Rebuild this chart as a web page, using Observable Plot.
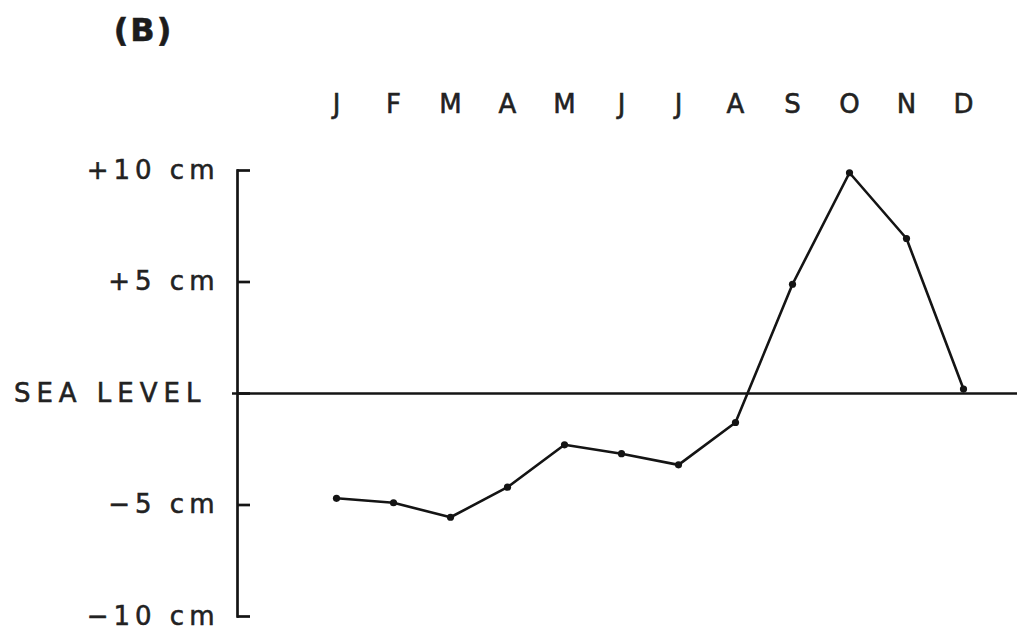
<!DOCTYPE html>
<html>
<head>
<meta charset="utf-8">
<script src="https://cdn.jsdelivr.net/npm/d3@7"></script>
<script src="https://cdn.jsdelivr.net/npm/@observablehq/plot@0.6"></script>
<style>
  html, body { margin: 0; padding: 0; background: #ffffff; }
  #chart svg { display: block; }
  #chart svg text { stroke: #222; stroke-width: 0.55px; }
  g[aria-label="y-axis tick label"] text { letter-spacing: 5px; }
  text[aria-label="sea level label"] { letter-spacing: 6px; }
  text[aria-label="panel title"] { letter-spacing: 2px; stroke-width: 0px; }
</style>
</head>
<body>
<div id="chart"></div>
<script>
const months = ["Jan","Feb","Mar","Apr","May","Jun","Jul","Aug","Sep","Oct","Nov","Dec"];
const monthLabels = ["J","F","M","A","M","J","J","A","S","O","N","D"];
const seaLevel = [-4.7, -4.9, -5.55, -4.2, -2.3, -2.7, -3.2, -1.3, 4.9, 9.9, 6.95, 0.2];
const valueTicks = [10, 5, -5, -10];
const valueTickLabels = ["+10 cm", "+5 cm", "\u22125 cm", "\u221210 cm"];
const zeroTick = [0];
const zeroTickLabel = "SEA LEVEL";
const endTicks = [10, 5, 0, -5, -10];
const panelTitle = "(B)";

const data = months.map((m, i) => ({month: m, value: seaLevel[i]}));
const ink = "#141414";

const chart = Plot.plot({
  width: 1021,
  height: 637,
  marginTop: 170,
  marginBottom: 21,
  marginLeft: 237,
  marginRight: 4,
  style: {fontFamily: "'DejaVu Sans', sans-serif", fontSize: "26px", color: "#222", background: "#ffffff"},
  x: {type: "point", domain: months, range: [335, 963], padding: 0},
  y: {domain: [-10, 10]},
  marks: [
    Plot.axisX({anchor: "top", tickSize: 0, tickPadding: 58, tickFormat: d => monthLabels[months.indexOf(d)], label: null, fill: "#222"}),
    Plot.axisY(valueTicks, {anchor: "left", tickSize: 0, tickPadding: 18, tickFormat: d => valueTickLabels[valueTicks.indexOf(d)], label: null, fill: "#222"}),
    Plot.text(zeroTick, {y: d => d, text: () => zeroTickLabel, frameAnchor: "left", textAnchor: "end", dx: -31, ariaLabel: () => "sea level label", fill: "#222"}),
    Plot.frame({anchor: "left", stroke: ink, strokeWidth: 2.7}),
    Plot.tickY(endTicks, {y: d => d, insetLeft: 0, insetRight: 767, stroke: ink, strokeWidth: 2.7}),
    Plot.ruleY([0], {stroke: ink, strokeWidth: 2.3, insetLeft: -5}),
    Plot.line(data, {x: "month", y: "value", stroke: ink, strokeWidth: 2.6}),
    Plot.dot(data, {x: "month", y: "value", r: 3.6, fill: ink, stroke: "none"}),
    Plot.text([panelTitle], {frameAnchor: "top-left", text: d => d, textAnchor: "middle", lineAnchor: "bottom", dx: -94, dy: -130, fontSize: 32, fontWeight: "bold", fill: "#1c1c1c", ariaLabel: () => "panel title"})
  ]
});
document.getElementById("chart").appendChild(chart);
</script>
</body>
</html>
